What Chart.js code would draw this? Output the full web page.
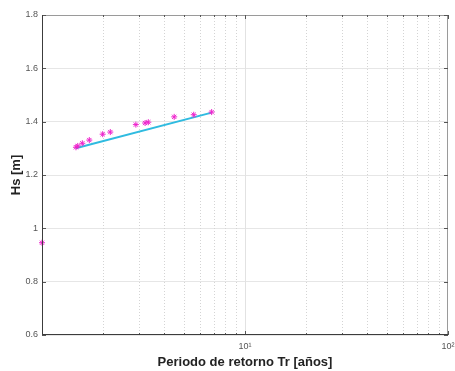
<!DOCTYPE html>
<html>
<head>
<meta charset="utf-8">
<script src="https://cdn.jsdelivr.net/npm/chart.js@4"></script>
<style>
  html, body { margin: 0; padding: 0; background: #fff; }
  #wrap { width: 455px; height: 371px; }
</style>
</head>
<body>
<div id="wrap"><canvas id="myChart" width="455" height="371"></canvas></div>
<script>
// observed values (period in years, Hs in m)
const periods = [1.0, 1.47, 1.50, 1.58, 1.71, 1.99, 2.17, 2.90, 3.22, 3.34, 4.48, 5.59, 6.85];
const hsObs = [0.946, 1.304, 1.309, 1.319, 1.331, 1.353, 1.361, 1.389, 1.395, 1.398, 1.418, 1.426, 1.436];
// fitted line
const fitPeriods = [1.466, 6.85];
const fitHs = [1.300, 1.434];
// axis ticks
const xTicks = [1, 2, 3, 4, 5, 6, 7, 8, 9, 10, 20, 30, 40, 50, 60, 70, 80, 90, 100];
const xMajor = [1, 10, 100];
const xLabels = { 10: '10¹', 100: '10²' };
const yTicks = [0.6, 0.8, 1.0, 1.2, 1.4, 1.6, 1.8];

function toPoints(xs, ys) {
    let out = [];
    for (let i = 0; i < xs.length; i++) out.push({ x: xs[i], y: ys[i] });
    return out;
}

// matlab-ish grid + box
const boxPlugin = {
    id: 'box',
    beforeDatasetsDraw(chart) {
        let ctx = chart.ctx;
        let a = chart.chartArea;
        let xs = chart.scales.x;
        ctx.save();
        ctx.lineWidth = 1;
        xTicks.forEach(v => {
            if (v === 1 || v === 100) return;
            let x = Math.round(xs.getPixelForValue(v)) + 0.5;
            if (v === 10) {
                ctx.setLineDash([]);
                ctx.strokeStyle = '#e2e2e2';
            } else {
                ctx.setLineDash([1, 2]);
                ctx.strokeStyle = '#d4d4d4';
            }
            ctx.beginPath();
            ctx.moveTo(x, a.top);
            ctx.lineTo(x, a.bottom);
            ctx.stroke();
        });
        ctx.restore();
    },
    afterDraw(chart) {
        let ctx = chart.ctx;
        let a = chart.chartArea;
        let xs = chart.scales.x;
        let ys = chart.scales.y;
        ctx.save();
        ctx.lineWidth = 1;
        ctx.setLineDash([]);
        // top / right
        ctx.strokeStyle = '#9a9a9a';
        ctx.beginPath();
        ctx.moveTo(a.left, a.top + 0.5);
        ctx.lineTo(a.right - 0.5, a.top + 0.5);
        ctx.lineTo(a.right - 0.5, a.bottom);
        ctx.stroke();
        // inward ticks
        ctx.strokeStyle = '#555';
        xTicks.forEach(v => {
            let x = Math.round(xs.getPixelForValue(v)) + 0.5;
            let len = xMajor.includes(v) ? 4 : 2;
            ctx.beginPath();
            ctx.moveTo(x, a.bottom);
            ctx.lineTo(x, a.bottom - len);
            ctx.moveTo(x, a.top);
            ctx.lineTo(x, a.top + len);
            ctx.stroke();
        });
        yTicks.forEach(v => {
            let y = Math.round(ys.getPixelForValue(v)) + 0.5;
            ctx.beginPath();
            ctx.moveTo(a.left, y);
            ctx.lineTo(a.left + 4, y);
            ctx.moveTo(a.right, y);
            ctx.lineTo(a.right - 4, y);
            ctx.stroke();
        });
        // left / bottom
        ctx.strokeStyle = '#3c3c3c';
        ctx.beginPath();
        ctx.moveTo(a.left + 0.5, a.top);
        ctx.lineTo(a.left + 0.5, a.bottom - 0.5);
        ctx.lineTo(a.right, a.bottom - 0.5);
        ctx.stroke();
        ctx.restore();
    }
};

let ctx = document.getElementById('myChart').getContext('2d');
let config = {
    type: 'scatter',
    data: {
        datasets: [{
            label: 'Hs',
            data: toPoints(periods, hsObs),
            pointStyle: 'star',
            pointRadius: 3,
            borderWidth: 1,
            borderColor: '#ee22cc',
            backgroundColor: '#ee22cc',
            clip: false
        }, {
            label: 'Ajuste',
            type: 'line',
            data: toPoints(fitPeriods, fitHs),
            borderColor: '#2fbbe0',
            borderWidth: 2,
            pointRadius: 0,
            fill: false
        }]
    },
    options: {
        responsive: false,
        animation: false,
        layout: { padding: { left: 0, right: 7, top: 15, bottom: 1 } },
        plugins: { legend: { display: false }, tooltip: { enabled: false } },
        scales: {
            x: {
                type: 'logarithmic',
                min: 1,
                max: 100,
                afterBuildTicks: s => { s.ticks = xTicks.map(v => ({ value: v })); },
                afterFit: s => { s.height = 35; s.paddingLeft = 0; s.paddingRight = 0; },
                grid: { display: false, drawTicks: false },
                border: { display: false },
                ticks: {
                    autoSkip: false,
                    maxRotation: 0,
                    padding: 6,
                    color: '#555',
                    font: { family: 'Liberation Sans, Arial', size: 9 },
                    callback: v => xLabels[v] || ''
                },
                title: {
                    display: true,
                    text: 'Periodo de retorno Tr [años]',
                    color: '#222',
                    padding: { top: 0, bottom: 0 },
                    font: { family: 'Liberation Sans, Arial', size: 13, weight: 'bold' }
                }
            },
            y: {
                min: 0.6,
                max: 1.8,
                afterBuildTicks: s => { s.ticks = yTicks.map(v => ({ value: v })); },
                afterFit: s => { s.width = 42; },
                grid: { color: '#e6e6e6', drawTicks: false },
                border: { display: false },
                ticks: {
                    padding: 4,
                    color: '#555',
                    font: { family: 'Liberation Sans, Arial', size: 9 },
                    callback: v => Number(v.toFixed(1)).toString()
                },
                title: {
                    display: true,
                    text: 'Hs [m]',
                    color: '#222',
                    padding: { top: 9, bottom: 0 },
                    font: { family: 'Liberation Sans, Arial', size: 13, weight: 'bold' }
                }
            }
        }
    },
    plugins: [boxPlugin]
};
let myChart = new Chart(ctx, config);
</script>
</body>
</html>
